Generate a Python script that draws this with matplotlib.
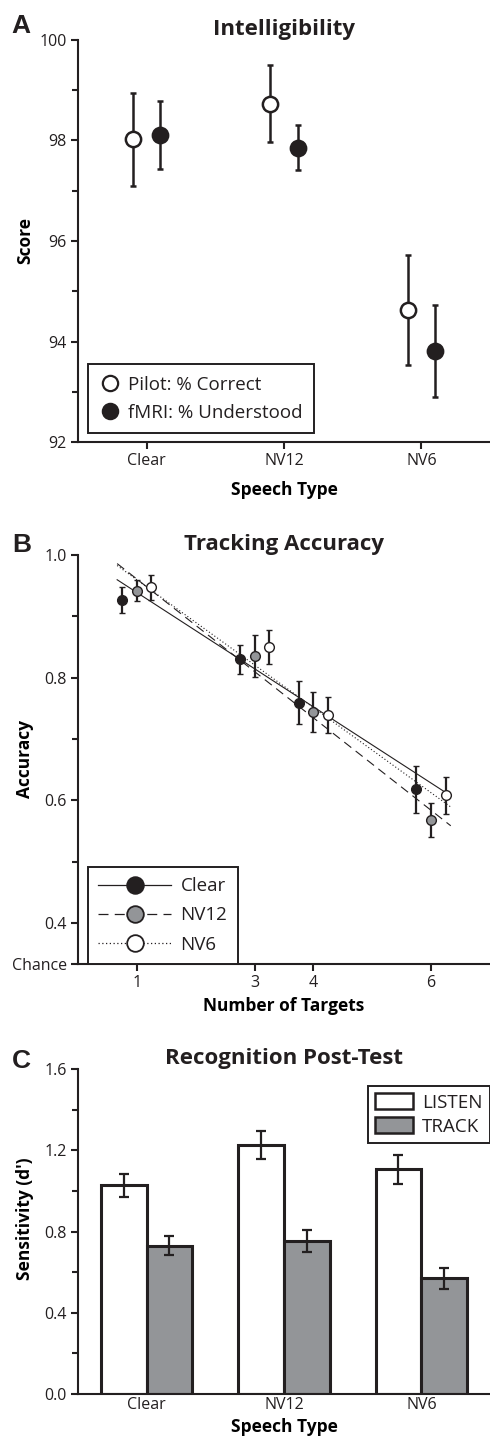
import matplotlib
matplotlib.use("Agg")
import matplotlib.pyplot as plt
import numpy as np
from matplotlib.lines import Line2D
from matplotlib.patches import Patch

# ---- Panel A: intelligibility ----
speech_types = ["Clear", "NV12", "NV6"]
pilot_score = [98.02, 98.73, 94.63]
pilot_err = [0.93, 0.77, 1.10]
fmri_score = [98.11, 97.86, 93.81]
fmri_err = [0.68, 0.44, 0.91]

# ---- Panel B: tracking accuracy ----
n_targets = [1, 3, 4, 6]
acc_clear = [0.927, 0.830, 0.759, 0.618]
acc_clear_err = [0.021, 0.024, 0.035, 0.038]
acc_nv12 = [0.942, 0.835, 0.744, 0.568]
acc_nv12_err = [0.017, 0.034, 0.032, 0.027]
acc_nv6 = [0.947, 0.850, 0.739, 0.608]
acc_nv6_err = [0.020, 0.028, 0.030, 0.030]
chance = 1.0 / 3.0

# ---- Panel C: recognition post-test ----
listen_dprime = [1.027, 1.226, 1.106]
listen_err = [0.055, 0.067, 0.072]
track_dprime = [0.729, 0.753, 0.569]
track_err = [0.047, 0.055, 0.051]

INK = "#231f20"
GRAY = "#939598"
TICK_FS = 11.5
LABEL_FS = 12.5
TITLE_FS = 16
LEG_FS = 13.5
plt.rcParams["font.family"] = ["Open Sans", "DejaVu Sans"]
plt.rcParams["axes.edgecolor"] = INK
plt.rcParams["xtick.color"] = INK
plt.rcParams["ytick.color"] = INK
plt.rcParams["text.color"] = INK


def style_axes(ax):
    ax.spines["top"].set_visible(False)
    ax.spines["right"].set_visible(False)
    for s in ("left", "bottom"):
        ax.spines[s].set_linewidth(1.5)
    ax.tick_params(which="major", direction="out", length=5, width=1.5,
                   labelsize=TICK_FS, pad=3)
    ax.tick_params(which="minor", direction="out", length=4, width=1.5)
    ax.tick_params(axis="x", which="minor", length=0)


fig = plt.figure(figsize=(4.9, 14.37), dpi=100)
axA = fig.add_axes([0.159, 0.6924, 0.841, 0.2798])
axB = fig.add_axes([0.159, 0.3292, 0.841, 0.2846])
axC = fig.add_axes([0.159, 0.0299, 0.841, 0.2262])

# ---------- A ----------
xa = np.arange(1, len(speech_types) + 1)
axA.errorbar(xa - 0.1, pilot_score, yerr=pilot_err, fmt="o", ms=11,
             mfc="white", mec=INK, mew=1.8, ecolor=INK, elinewidth=1.8,
             capsize=2, capthick=1.8)
axA.errorbar(xa + 0.1, fmri_score, yerr=fmri_err, fmt="o", ms=11,
             mfc=INK, mec=INK, mew=1.8, ecolor=INK, elinewidth=1.8,
             capsize=2, capthick=1.8)
axA.set_xlim(0.5, 3.5)
axA.set_ylim(92, 100)
axA.set_xticks(xa)
axA.set_xticklabels(speech_types)
axA.set_yticks([92, 94, 96, 98, 100])
axA.set_yticks([93, 95, 97, 99], minor=True)
style_axes(axA)
axA.set_title("Intelligibility", fontsize=TITLE_FS, fontweight="bold", pad=1)
axA.set_ylabel("Score", fontsize=LABEL_FS, fontweight="bold")
axA.set_xlabel("Speech Type", fontsize=LABEL_FS, fontweight="bold")
axA.yaxis.set_label_coords(-0.107, 0.5)
axA.xaxis.set_label_coords(0.5, -0.097)
hA = [Line2D([], [], ls="none", marker="o", ms=11, mfc="white", mec=INK, mew=1.6),
      Line2D([], [], ls="none", marker="o", ms=11, mfc=INK, mec=INK, mew=1.6)]
legA = axA.legend(hA, ["Pilot: % Correct", "fMRI: % Understood"], loc="lower left",
                  bbox_to_anchor=(0.024, 0.022), borderaxespad=0, fontsize=LEG_FS,
                  fancybox=False, edgecolor=INK, framealpha=1, handletextpad=0.35,
                  handlelength=1.2, labelspacing=0.55, borderpad=0.6)
legA.get_frame().set_linewidth(1.4)

# ---------- B ----------
series_b = [(acc_clear, acc_clear_err, -0.25, INK, "-", "Clear"),
            (acc_nv12, acc_nv12_err, 0.0, GRAY, (0, (8, 5)), "NV12"),
            (acc_nv6, acc_nv6_err, 0.25, "white", (0, (1, 2)), "NV6")]
xt = np.array(n_targets, dtype=float)
line_x = np.array([2.0 / 3.0, 6 + 1.0 / 3.0])
hB = []
for vals, errs, off, fc, ls, name in series_b:
    slope, icpt = np.polyfit(xt, vals, 1)
    axB.plot(line_x, slope * line_x + icpt, color=INK, ls=ls, lw=0.8, zorder=1)
    axB.errorbar(xt + off, vals, yerr=errs, fmt="o", ms=7, mfc=fc, mec=INK,
                 mew=1.0, ecolor=INK, elinewidth=1.6, capsize=2.5, capthick=1.6,
                 zorder=3)
    hB.append(Line2D([], [], color=INK, ls=ls, lw=0.9, marker="o", ms=12,
                     mfc=fc, mec=INK, mew=1.3))
axB.set_xlim(0, 7)
axB.set_ylim(chance, 1.0)
axB.set_xticks(n_targets)
axB.set_yticks([chance, 0.4, 0.6, 0.8, 1.0])
axB.set_yticklabels(["Chance", "0.4", "0.6", "0.8", "1.0"])
axB.set_yticks([0.5, 0.7, 0.9], minor=True)
style_axes(axB)
axB.set_title("Tracking Accuracy", fontsize=TITLE_FS, fontweight="bold", pad=1)
axB.set_ylabel("Accuracy", fontsize=LABEL_FS, fontweight="bold")
axB.set_xlabel("Number of Targets", fontsize=LABEL_FS, fontweight="bold")
axB.yaxis.set_label_coords(-0.107, 0.5)
axB.xaxis.set_label_coords(0.5, -0.08)
legB = axB.legend(hB, [s[5] for s in series_b], loc="lower left",
                  bbox_to_anchor=(0.024, 0.0), borderaxespad=0, fontsize=LEG_FS,
                  fancybox=False, edgecolor=INK, framealpha=1, handlelength=3.9,
                  handletextpad=0.5, labelspacing=0.6, borderpad=0.55)
legB.get_frame().set_linewidth(1.4)

# ---------- C ----------
xc = np.arange(1, len(speech_types) + 1)
bw = 1.0 / 3.0
axC.bar(xc - bw / 2, listen_dprime, width=bw, color="white", edgecolor=INK,
        linewidth=2.2, zorder=2)
axC.bar(xc + bw / 2, track_dprime, width=bw, color=GRAY, edgecolor=INK,
        linewidth=2.2, zorder=2)
axC.errorbar(xc - bw / 2, listen_dprime, yerr=listen_err, fmt="none", ecolor=INK,
             elinewidth=1.6, capsize=3.5, capthick=1.6, zorder=3)
axC.errorbar(xc + bw / 2, track_dprime, yerr=track_err, fmt="none", ecolor=INK,
             elinewidth=1.6, capsize=3.5, capthick=1.6, zorder=3)
axC.set_xlim(0.5, 3.5)
axC.set_ylim(0, 1.6)
axC.set_xticks(xc)
axC.set_xticklabels(speech_types)
axC.set_yticks([0.0, 0.4, 0.8, 1.2, 1.6])
axC.set_yticklabels(["0.0", "0.4", "0.8", "1.2", "1.6"])
axC.set_yticks([0.2, 0.6, 1.0, 1.4], minor=True)
style_axes(axC)
axC.tick_params(axis="x", which="major", length=0, pad=2)
axC.set_title("Recognition Post-Test", fontsize=TITLE_FS, fontweight="bold", pad=1)
axC.set_ylabel("Sensitivity (d')", fontsize=LABEL_FS, fontweight="bold")
axC.set_xlabel("Speech Type", fontsize=LABEL_FS, fontweight="bold")
axC.yaxis.set_label_coords(-0.107, 0.54)
axC.xaxis.set_label_coords(0.5, -0.075)
hC = [Patch(facecolor="white", edgecolor=INK, linewidth=1.8),
      Patch(facecolor=GRAY, edgecolor=INK, linewidth=1.8)]
legC = axC.legend(hC, ["LISTEN", "TRACK"], loc="upper right",
                  bbox_to_anchor=(1.0, 0.948), borderaxespad=0, fontsize=LEG_FS,
                  fancybox=False, edgecolor=INK, framealpha=1, handlelength=2.0,
                  handleheight=0.9, handletextpad=0.5, labelspacing=0.3,
                  borderpad=0.4)
legC.get_frame().set_linewidth(1.4)

# panel letters
for letter, yb in (("A", 0.977), ("B", 0.6159), ("C", 0.2568)):
    fig.text(0.024, yb, letter, fontsize=19, fontweight="bold",
             family="Liberation Sans", va="baseline", ha="left")

fig.savefig("out.png", dpi=100)
